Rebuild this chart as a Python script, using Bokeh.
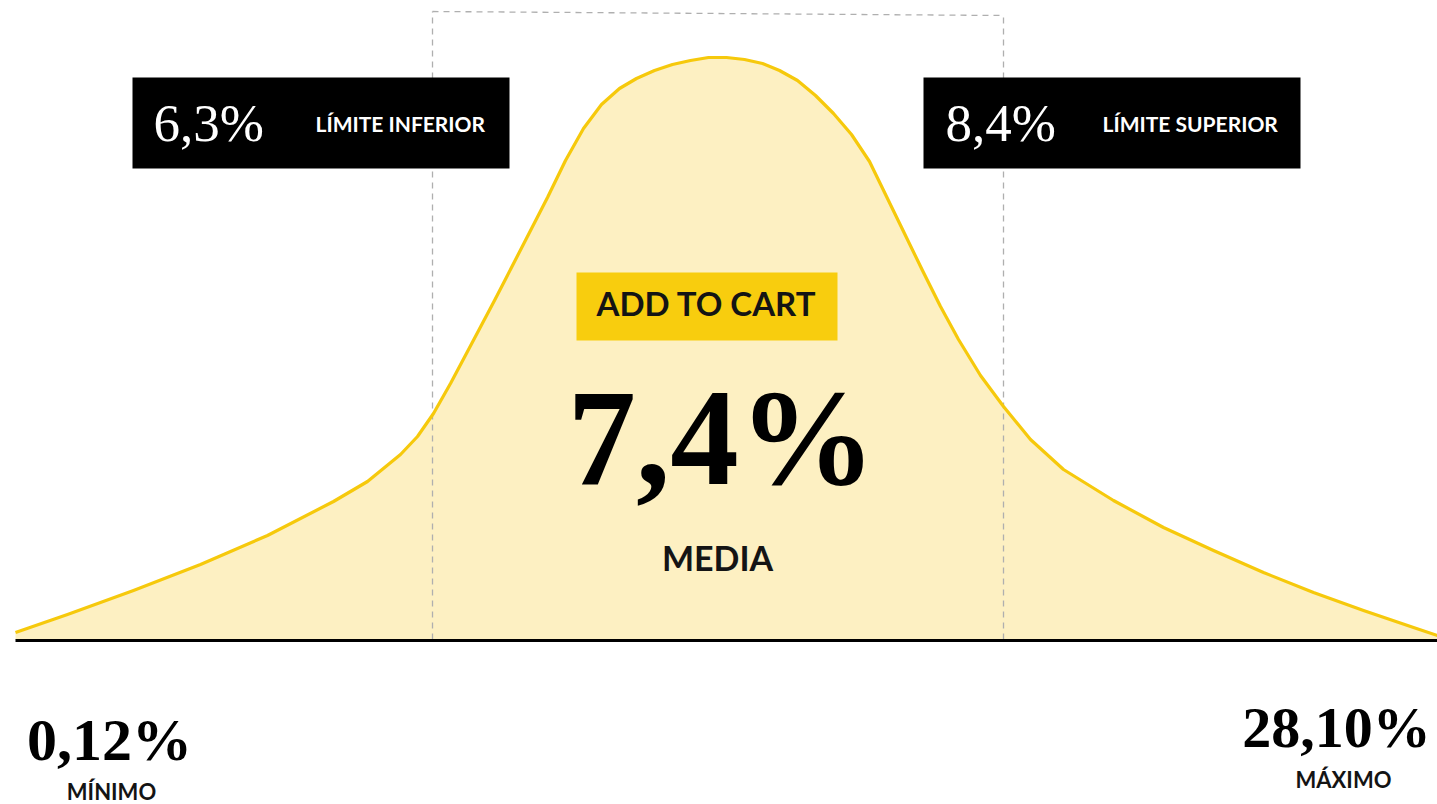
from bokeh.plotting import figure
from bokeh.models import Range1d
from bokeh.core.properties import value
from bokeh.embed import file_html
from bokeh.resources import INLINE

# ---- data ----
# bell curve: horizontal position and height above the baseline
curve_x = [15, 67, 133, 200, 267, 333, 367, 400, 417, 433, 450, 467, 476, 494,
           511, 529, 547, 565, 583, 601, 619, 636, 654, 672, 690, 708, 726, 744, 762,
           779, 797, 815, 833, 851, 869, 886, 904, 922, 940, 958, 980, 1003, 1030,
           1063, 1113, 1163, 1213, 1263, 1313, 1363, 1413, 1437]
curve_h = [7, 25, 49, 75, 104, 138, 158, 185, 203, 226, 256, 288, 305, 339,
           372, 407, 442, 479, 511, 535, 551, 561, 569, 575, 579, 582, 582, 580, 576,
           569, 559, 544, 526, 505, 478, 443, 406, 369, 333, 300, 264, 233, 200,
           170, 139, 112, 89, 67, 47, 29, 12, 4]

mean_value = "7,4%"
mean_label = "MEDIA"
lower_value = "6,3%"
lower_label = "LÍMITE INFERIOR"
upper_value = "8,4%"
upper_label = "LÍMITE SUPERIOR"
min_value = "0,12%"
min_label = "MÍNIMO"
max_value = "28,10%"
max_label = "MÁXIMO"
button_label = "ADD TO CART"

W, H = 1437, 804
BASE = 639  # pixel row of the baseline (from top)


def hy(py):
    """pixel row from top -> height coordinate"""
    return BASE - py


def ty(py, size, k):
    """anchor for a text whose glyph baseline should sit on pixel row py"""
    return hy(py - k * size)


KS = 0.37   # serif
KL = 0.44   # sans

p = figure(width=W, height=H, x_range=Range1d(0, W), y_range=Range1d(BASE - H, BASE),
           output_backend="svg", toolbar_location=None, min_border=0,
           x_axis_location=None, y_axis_location=None)
p.grid.visible = False
p.outline_line_color = None
p.background_fill_color = "white"
p.border_fill_color = "white"

# filled area under curve
px = [curve_x[0]] + curve_x + [curve_x[-1]]
py = [0] + curve_h + [0]
p.patch(px, py, fill_color="#FDF0C2", line_color=None)

# dashed interval box
dash_col = "#AFAFAF"
p.line([432, 432], [0, hy(11)], line_color=dash_col, line_width=1.3, line_dash="6 5")
p.line([1003, 1003], [0, hy(15)], line_color=dash_col, line_width=1.3, line_dash="6 5")
p.line([432, 1003], [hy(11), hy(15)], line_color=dash_col, line_width=1.3, line_dash="6 5")

# curve outline
p.line(curve_x, curve_h, line_color="#F6C90C", line_width=3.2, line_join="round")

# baseline
p.line([15, W], [-1, -1], line_color="black", line_width=3)

# black label boxes
p.quad(left=[132, 923], right=[509, 1300], top=[hy(77), hy(77)], bottom=[hy(168), hy(168)],
       fill_color="black", line_color=None)

# add to cart box
p.quad(left=[576], right=[837], top=[hy(272)], bottom=[hy(340)],
       fill_color="#F8CD0E", line_color=None)

serif = value("Liberation Serif")
sans = value("Lato")

# limit boxes texts
s = 53
p.text(x=[153, 945], y=[ty(142, s, KS)] * 2, text=[lower_value, upper_value],
       text_font=serif, text_font_size=f"{s}px", text_color="white",
       text_baseline="alphabetic", text_align="left")
s = 21
p.text(x=[315, 1102], y=[ty(132, s, KL)] * 2, text=[lower_label, upper_label],
       text_font=sans, text_font_style="bold", text_font_size=f"{s}px", text_color="white",
       text_baseline="alphabetic", text_align="left")

# center texts
s = 33
p.text(x=[706], y=[ty(317, s, KL)], text=[button_label], text_font=sans,
       text_font_style="bold", text_font_size=f"{s}px", text_color="#141414",
       text_baseline="alphabetic", text_align="center")
s = 137
p.text(x=[721], y=[ty(488, s, KS)], text=[mean_value], text_font=serif,
       text_font_style="bold", text_font_size=f"{s}px", text_color="black",
       text_baseline="alphabetic", text_align="center")
s = 34
p.text(x=[717], y=[ty(572, s, KL)], text=[mean_label], text_font=sans,
       text_font_style="bold", text_font_size=f"{s}px", text_color="#141414",
       text_baseline="alphabetic", text_align="center")

# min / max
s = 60
p.text(x=[109], y=[ty(762, s, KS)], text=[min_value],
       text_font=serif, text_font_style="bold", text_font_size=f"{s}px",
       text_color="black", text_baseline="alphabetic", text_align="center")
s = 58
p.text(x=[1336], y=[ty(748, s, KS)], text=[max_value],
       text_font=serif, text_font_style="bold", text_font_size=f"{s}px",
       text_color="black", text_baseline="alphabetic", text_align="center")
s = 22
p.text(x=[111, 1343], y=[ty(801, s, KL), ty(789, s, KL)], text=[min_label, max_label],
       text_font=sans, text_font_style="bold", text_font_size=f"{s}px",
       text_color="#141414", text_baseline="alphabetic", text_align="center")

open("out.html", "w").write(file_html(p, INLINE))
